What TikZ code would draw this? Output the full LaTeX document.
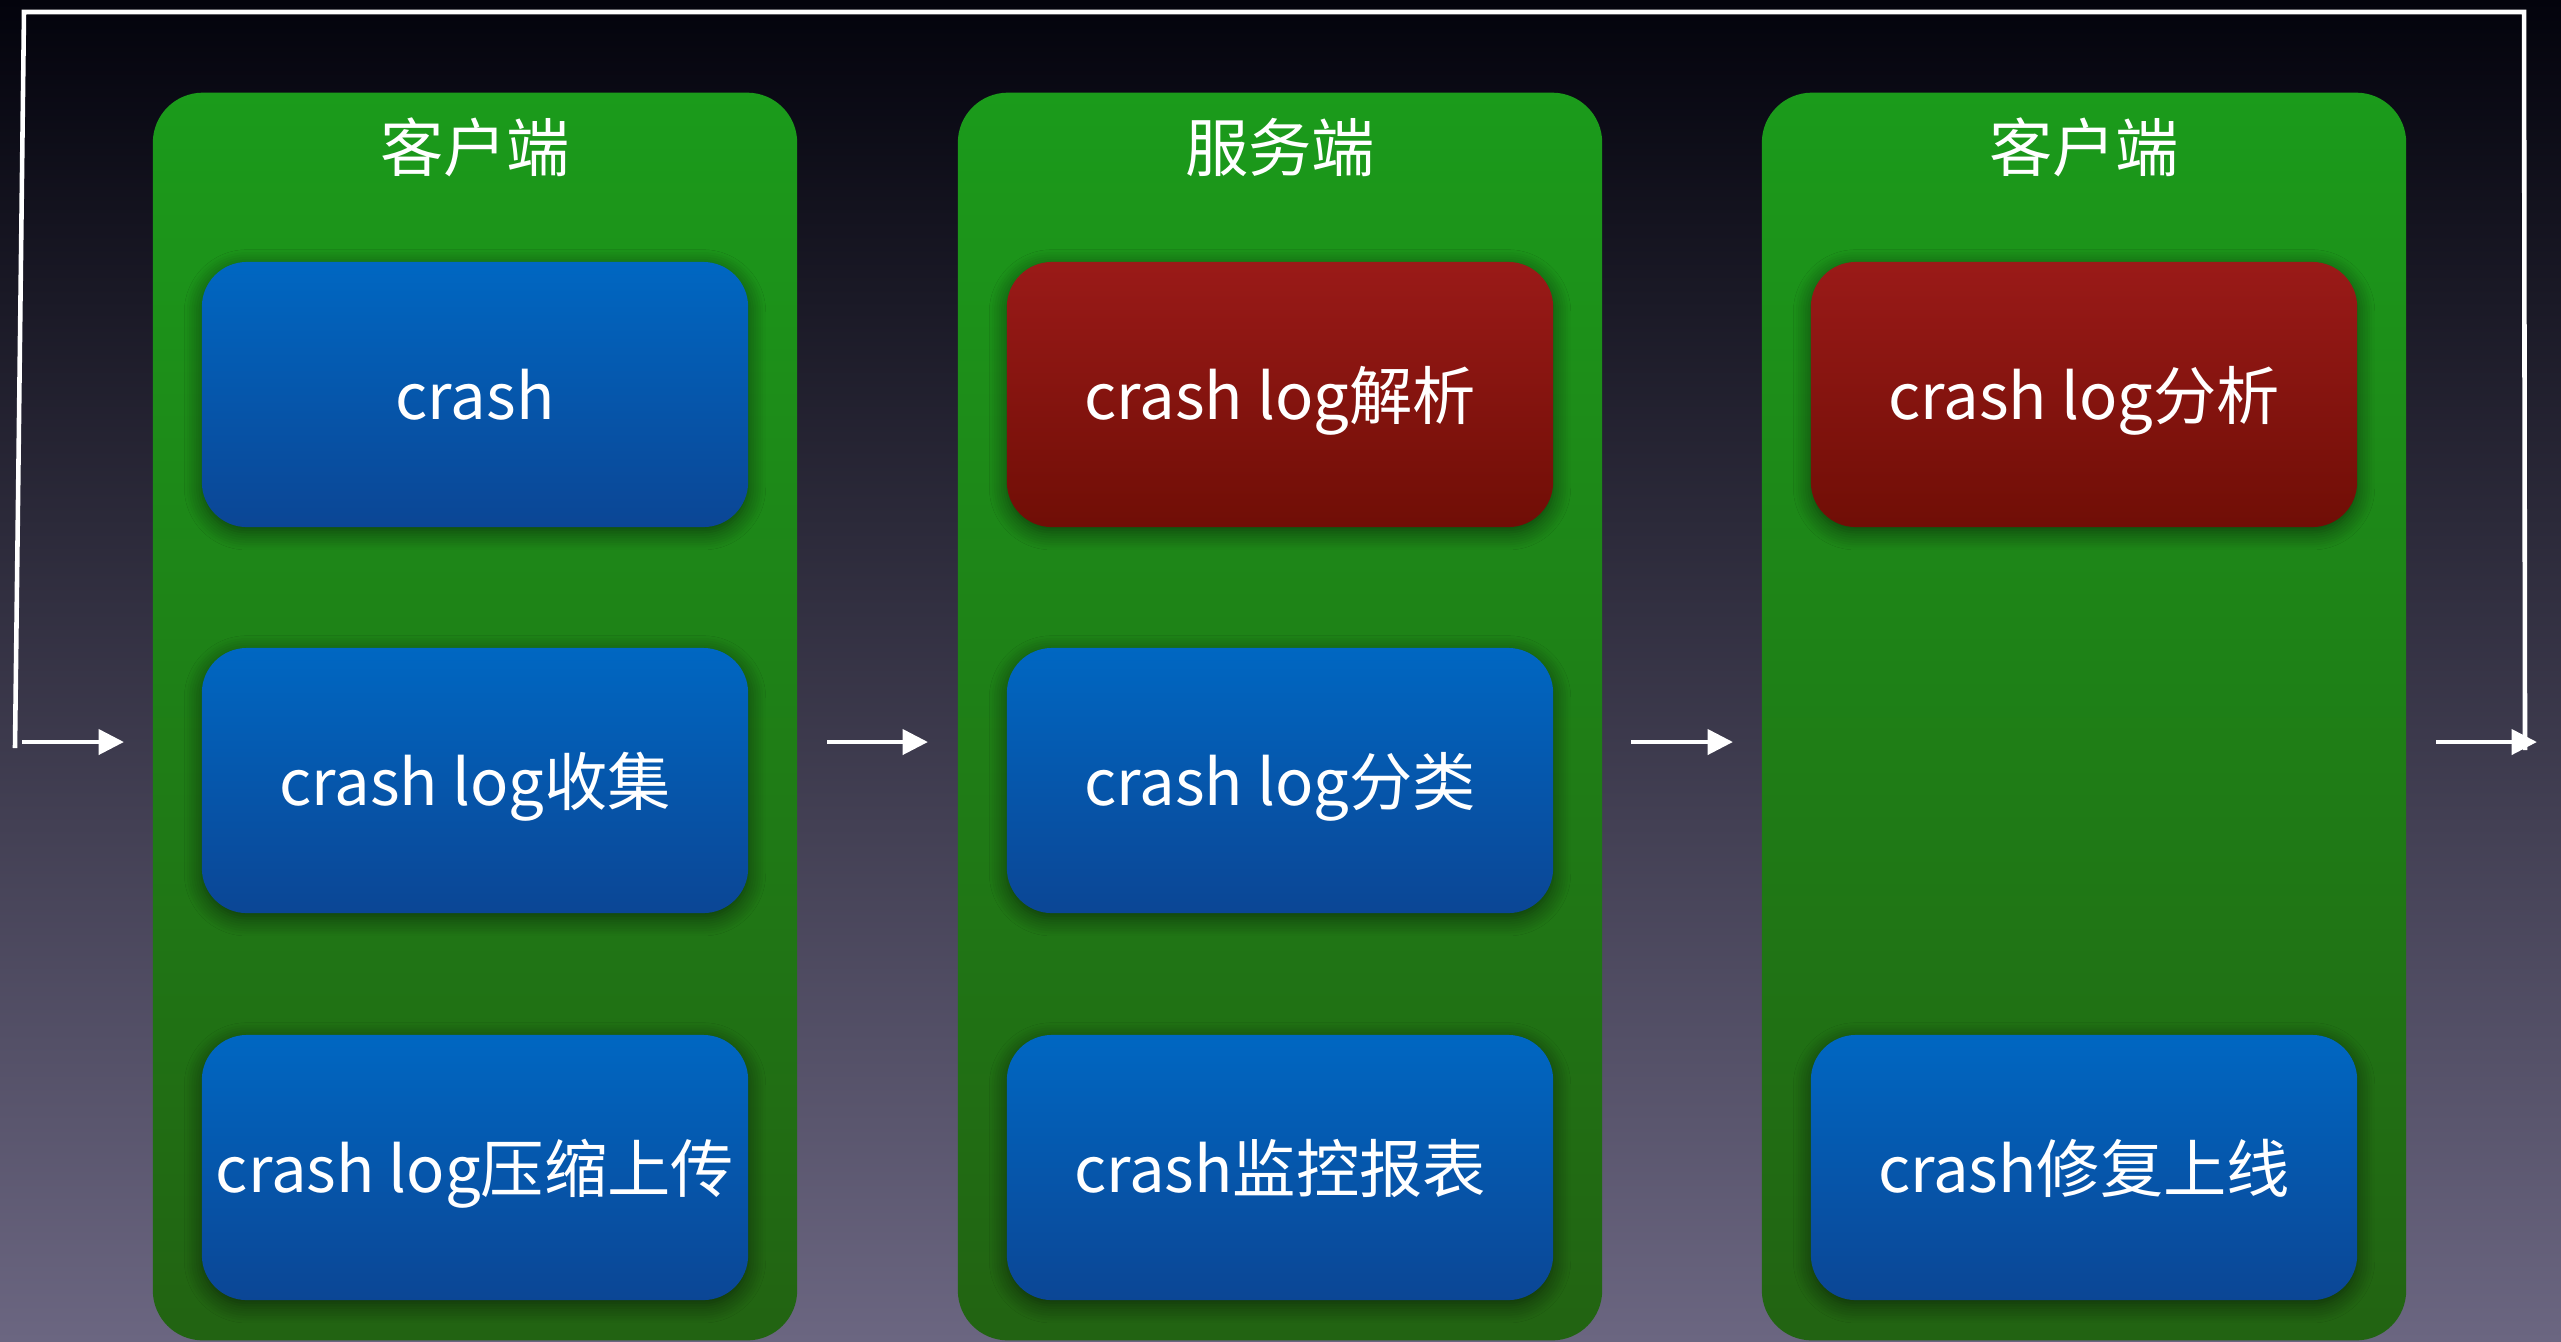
\documentclass[tikz,border=0pt]{standalone}
\usepackage{fontspec}
\setmainfont{Noto Sans CJK SC}
\usetikzlibrary{arrows.meta,shadows.blur}
\definecolor{bgtop}{HTML}{03030C}
\definecolor{bgmid}{HTML}{34345A}
\definecolor{bgbot}{HTML}{6B6681}
\definecolor{gtop}{HTML}{1B9B1B}
\definecolor{gbot}{HTML}{226312}
\definecolor{btop}{HTML}{0067C2}
\definecolor{bbot}{HTML}{0B4695}
\definecolor{rtop}{HTML}{9A1A18}
\definecolor{rbot}{HTML}{700E06}
\tikzset{
  panel/.style={rounded corners=0.5cm, top color=gtop, bottom color=gbot, draw=none,
    minimum width=6.44cm, minimum height=12.47cm, inner sep=0pt},
  ttl/.style={text=white, font=\fontsize{18}{20}\selectfont, inner sep=0pt},
  boxbase/.style={rounded corners=0.45cm, draw=none, minimum width=5.46cm, minimum height=2.65cm,
    inner sep=0pt, text=white, font=\fontsize{18}{20}\selectfont, text height=14pt, text depth=0pt,
    blur shadow={shadow xshift=0pt, shadow yshift=-1.5pt, shadow blur radius=5pt, shadow opacity=55, shadow blur steps=8}},
  bluebox/.style={boxbase, top color=btop, bottom color=bbot},
  redbox/.style={boxbase, top color=rtop, bottom color=rbot},
  loopline/.style={draw=white, line width=1.3pt, line join=miter},
  flow/.style={draw=white, line width=1.4pt, -{Triangle[length=7.2pt, width=7pt]}}
}
\begin{document}
\begin{tikzpicture}[x=0.01cm, y=-0.01cm]
\useasboundingbox (0,0) rectangle (2561,1341);
\shade[top color=bgtop, middle color=bgmid, bottom color=bgbot] (0,0) rectangle (2561,1341);

% panels
\node[panel] (p1) at (475,716.5) {};
\node[panel] (p2) at (1280,716.5) {};
\node[panel] (p3) at (2084,716.5) {};

% titles
\node[ttl] (t1) at (475,147) {客户端};
\node[ttl] (t2) at (1280,147) {服务端};
\node[ttl] (t3) at (2084,147) {客户端};

% column 1
\node[bluebox] (a1) at (475,394.5) {crash};
\node[bluebox] (a2) at (475,780.5) {crash log收集};
\node[bluebox] (a3) at (475,1167.5) {crash log压缩上传};
% column 2
\node[redbox] (b1) at (1280,394.5) {crash log解析};
\node[bluebox] (b2) at (1280,780.5) {crash log分类};
\node[bluebox] (b3) at (1280,1167.5) {crash监控报表};
% column 3
\node[redbox] (c1) at (2084,394.5) {crash log分析};
\node[bluebox] (c3) at (2084,1167.5) {crash修复上线};

% loop line
\coordinate (rb) at (2525,750);
\coordinate (rt) at (2524,12);
\coordinate (lt) at (24,12);
\coordinate (lb) at (15,748);
\draw[loopline] (rb) -- (rt) -- (lt) -- (lb);

% flow arrows
\coordinate (f0s) at (22,742);  \coordinate (f0e) at (124,742);
\coordinate (f1s) at (827,742); \coordinate (f1e) at (928,742);
\coordinate (f2s) at (1631,742); \coordinate (f2e) at (1733,742);
\coordinate (f3s) at (2436,742); \coordinate (f3e) at (2537,742);
\draw[flow] (f0s) -- (f0e);
\draw[flow] (f1s) -- (f1e);
\draw[flow] (f2s) -- (f2e);
\draw[flow] (f3s) -- (f3e);
\end{tikzpicture}
\end{document}
